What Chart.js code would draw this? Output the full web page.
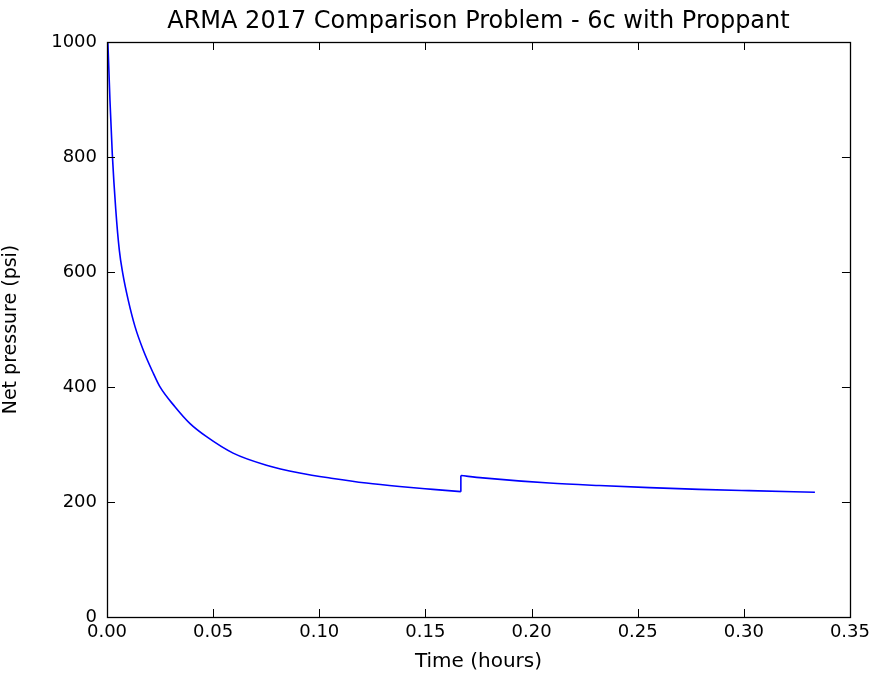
<!DOCTYPE html>
<html>
<head>
<meta charset="utf-8">
<script src="https://cdn.jsdelivr.net/npm/chart.js@4.4.0/dist/chart.umd.min.js"></script>
<style>
html,body{margin:0;padding:0;background:#fff;}
#wrap{width:875px;height:677px;}
</style>
</head>
<body>
<div id="wrap"><canvas id="c" width="875" height="677"></canvas></div>
<script>
const chartTitle = "ARMA 2017 Comparison Problem - 6c with Proppant";
const xTitle = "Time (hours)";
const yTitle = "Net pressure (psi)";

// Segment 1 (before the step)
const time1 = [0.0004, 0.0009, 0.0014, 0.0025, 0.0041, 0.0058, 0.0074, 0.0100, 0.0132, 0.0171, 0.0218, 0.0249, 0.0320, 0.0390, 0.0469, 0.0594, 0.0751, 0.0908, 0.1065, 0.1222, 0.1378, 0.1535, 0.1667];
const pressure1 = [1000, 950, 898, 805, 710, 638, 598, 551, 505, 464, 424, 400.5, 365.7, 336.8, 313.6, 285, 264, 250.5, 241, 233, 227, 222, 218];
// Segment 2 (after the step)
const time2 = [0.1667, 0.177, 0.2084, 0.2319, 0.2555, 0.279, 0.3025, 0.3335];
const pressure2 = [246, 242, 233, 228.6, 225, 222, 219.7, 217];

const xTicks = [0, 0.05, 0.10, 0.15, 0.20, 0.25, 0.30, 0.35];
const yTicks = [0, 200, 400, 600, 800, 1000];

const toPts = (xs, ys) => xs.map((x, i) => ({x: x, y: ys[i]}));
const seg1 = toPts(time1, pressure1);
const seg2 = toPts(time2, pressure2);
const step = [seg1[seg1.length - 1], seg2[0]];

const FONT = "'DejaVu Sans', sans-serif";
const BLUE = '#0000ff';

const frame = {
  id: 'frame',
  afterDraw(chart) {
    const {ctx, chartArea: a, scales} = chart;
    ctx.save();
    ctx.strokeStyle = '#000';
    ctx.lineWidth = 1;
    const L = 8;
    ctx.beginPath();
    scales.x.ticks.forEach(t => {
      const px = Math.round(scales.x.getPixelForValue(t.value)) + 0.5;
      ctx.moveTo(px, a.bottom); ctx.lineTo(px, a.bottom - L);
      ctx.moveTo(px, a.top); ctx.lineTo(px, a.top + L);
    });
    scales.y.ticks.forEach(t => {
      const py = Math.round(scales.y.getPixelForValue(t.value)) + 0.5;
      ctx.moveTo(a.left, py); ctx.lineTo(a.left + L, py);
      ctx.moveTo(a.right, py); ctx.lineTo(a.right - L, py);
    });
    ctx.stroke();
    ctx.lineWidth = 1.3;
    ctx.strokeRect(Math.round(a.left) + 0.5, Math.round(a.top) + 0.5, Math.round(a.right - a.left), Math.round(a.bottom - a.top));
    ctx.restore();
  }
};

new Chart(document.getElementById('c'), {
  type: 'scatter',
  data: {
    datasets: [
      {data: seg1, showLine: true, borderColor: BLUE, borderWidth: 1.6, pointRadius: 0, cubicInterpolationMode: 'monotone', fill: false},
      {data: step, showLine: true, borderColor: BLUE, borderWidth: 1.6, pointRadius: 0, tension: 0, fill: false},
      {data: seg2, showLine: true, borderColor: BLUE, borderWidth: 1.6, pointRadius: 0, cubicInterpolationMode: 'monotone', fill: false}
    ]
  },
  options: {
    responsive: false,
    animation: false,
    devicePixelRatio: 1,
    layout: {padding: {left: 0, right: 24, top: 0, bottom: 0}},
    plugins: {
      legend: {display: false},
      tooltip: {enabled: false},
      title: {
        display: true,
        text: chartTitle,
        color: '#000',
        fullSize: false,
        font: {family: FONT, size: 24, weight: 'normal'},
        padding: {top: 7, bottom: 6.2}
      }
    },
    scales: {
      x: {
        type: 'linear',
        min: 0, max: 0.35,
        afterBuildTicks: s => { s.ticks = xTicks.map(v => ({value: v})); },
        afterFit: s => { s.height = 60; },
        grid: {display: false, drawTicks: false},
        border: {display: false},
        ticks: {
          color: '#000',
          font: {family: FONT, size: 18},
          padding: 5,
          maxRotation: 0,
          callback: v => Number(v).toFixed(2)
        },
        title: {display: true, text: xTitle, color: '#000', font: {family: FONT, size: 20}, padding: {top: 0, bottom: 3}}
      },
      y: {
        type: 'linear',
        min: 0, max: 1000,
        afterBuildTicks: s => { s.ticks = yTicks.map(v => ({value: v})); },
        afterFit: s => { s.width = 107; },
        grid: {display: false, drawTicks: false},
        border: {display: false},
        ticks: {
          color: '#000',
          font: {family: FONT, size: 18},
          padding: 10,
          callback: v => String(v)
        },
        title: {display: true, text: yTitle, color: '#000', font: {family: FONT, size: 19}, padding: {top: 0, bottom: 0}}
      }
    }
  },
  plugins: [frame]
});
</script>
</body>
</html>
